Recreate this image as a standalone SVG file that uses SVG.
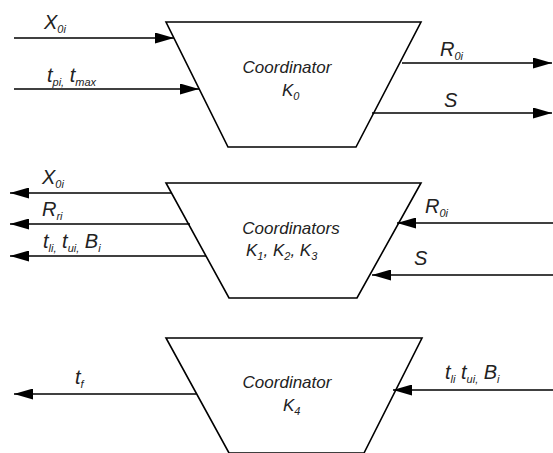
<svg xmlns="http://www.w3.org/2000/svg" width="553" height="453" viewBox="0 0 553 453">
<defs>
<marker id="ah" markerWidth="19" markerHeight="11" refX="19" refY="5.5" orient="auto" markerUnits="userSpaceOnUse">
<path d="M0,0 L19,5.5 L0,11 Z" fill="#000"/>
</marker>
<style>
.box{fill:#fff;stroke:#000;stroke-width:1.6}
.ln{stroke:#000;stroke-width:1.6;fill:none;marker-end:url(#ah)}
text{font-family:"Liberation Sans",Arial,sans-serif;font-style:italic;fill:#222}
.lb{font-size:20px}
.ct{font-size:17px}
.sb{font-size:11px}
</style>
</defs>
<rect width="553" height="453" fill="#fff"/>
<g id="k0">
<path class="box" d="M166,22 L421,22 L356,147 L228,147 Z"/>
<text class="ct" x="287" y="73" text-anchor="middle">Coordinator</text>
<text class="ct" x="282" y="96">K<tspan class="sb" dy="4">0</tspan></text>
</g>
<g id="k123">
<path class="box" d="M166,183 L421,183 L357,298 L229,298 Z"/>
<text class="ct" x="291" y="234" text-anchor="middle">Coordinators</text>
<text class="ct" x="246" y="256">K<tspan class="sb" dy="4">1</tspan><tspan dy="-4">, K</tspan><tspan class="sb" dy="4">2</tspan><tspan dy="-4">, K</tspan><tspan class="sb" dy="4">3</tspan></text>
</g>
<g id="k4">
<path class="box" d="M166,338 L422,338 L364,453 L229,453 Z"/>
<text class="ct" x="287" y="388" text-anchor="middle">Coordinator</text>
<text class="ct" x="283" y="411">K<tspan class="sb" dy="4">4</tspan></text>
</g>
<g id="connectors">
<line class="ln" x1="14" y1="38" x2="174" y2="38"/>
<line class="ln" x1="14" y1="89" x2="199" y2="89"/>
<line class="ln" x1="402" y1="63" x2="552" y2="63"/>
<line class="ln" x1="372" y1="113" x2="552" y2="113"/>
<line class="ln" x1="172" y1="193" x2="10" y2="193"/>
<line class="ln" x1="190" y1="224" x2="10" y2="224"/>
<line class="ln" x1="206" y1="256" x2="10" y2="256"/>
<line class="ln" x1="553" y1="223" x2="397" y2="223"/>
<line class="ln" x1="553" y1="275" x2="372" y2="275"/>
<line class="ln" x1="196" y1="394" x2="14" y2="394"/>
<line class="ln" x1="553" y1="390" x2="393" y2="390"/>
</g>
<g id="labels">
<text class="lb" x="44" y="29">X<tspan class="sb" dy="4">0i</tspan></text>
<text class="lb" x="47" y="82">t<tspan class="sb" dy="4">pi,</tspan><tspan dy="-4"> t</tspan><tspan class="sb" dy="4">max</tspan></text>
<text class="lb" x="440" y="56">R<tspan class="sb" dy="4">0i</tspan></text>
<text class="lb" x="444" y="107">S</text>
<text class="lb" x="42" y="184">X<tspan class="sb" dy="4">0i</tspan></text>
<text class="lb" x="42" y="216">R<tspan class="sb" dy="4">ri</tspan></text>
<text class="lb" x="43" y="248">t<tspan class="sb" dy="4">li,</tspan><tspan dy="-4"> t</tspan><tspan class="sb" dy="4">ui,</tspan><tspan dy="-4"> B</tspan><tspan class="sb" dy="4">i</tspan></text>
<text class="lb" x="425" y="213">R<tspan class="sb" dy="4">0i</tspan></text>
<text class="lb" x="414" y="265">S</text>
<text class="lb" x="75" y="384">t<tspan class="sb" dy="4">f</tspan></text>
<text class="lb" x="445" y="379">t<tspan class="sb" dy="4">li</tspan><tspan dy="-4"> t</tspan><tspan class="sb" dy="4">ui,</tspan><tspan dy="-4"> B</tspan><tspan class="sb" dy="4">i</tspan></text>
</g>
</svg>
